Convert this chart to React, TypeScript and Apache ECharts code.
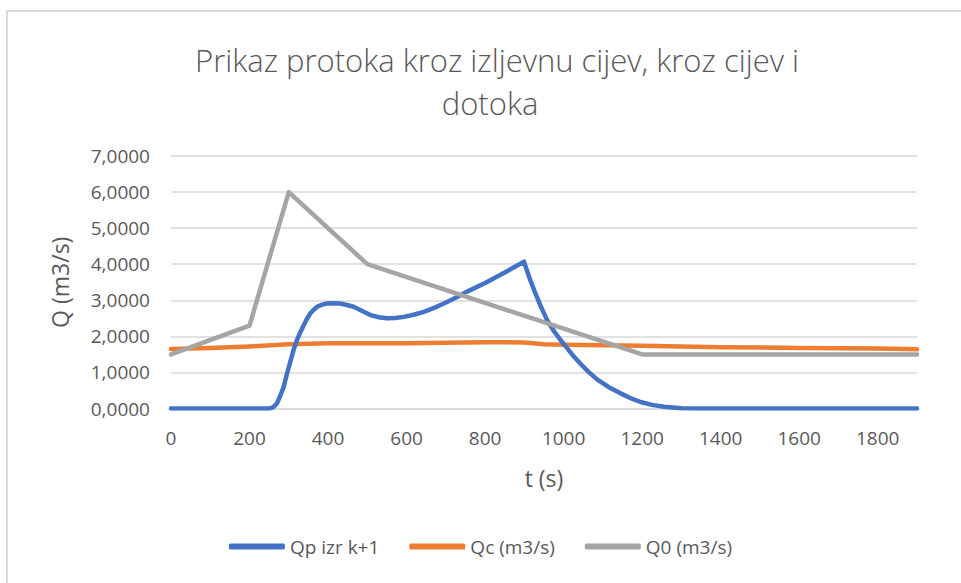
import React, { useEffect, useRef } from "react";
import * as echarts from "echarts";

const titleLines = ["Prikaz protoka kroz izljevnu cijev, kroz cijev i", "dotoka"];
const xAxisTitle = "t (s)";
const yAxisTitle = "Q (m3/s)";
const seriesNames = ["Qp izr k+1", "Qc (m3/s)", "Q0 (m3/s)"];
const seriesColors = ["#4472C4", "#ED7D31", "#A5A5A5"];

// Qp izr k+1 : [t, Q]
const qpData: [number, number][] = [
  [0, 0], [250, 0], [260, 0.03], [270, 0.14], [280, 0.4], [287, 0.6], [295, 0.95],
  [304, 1.3], [312, 1.62], [321, 1.9], [330, 2.13], [338, 2.31], [346, 2.48],
  [355, 2.64], [364, 2.74], [372, 2.82], [385, 2.88], [397, 2.91], [414, 2.92],
  [431, 2.91], [448, 2.87], [465, 2.82], [486, 2.71], [508, 2.59], [529, 2.53],
  [550, 2.5], [571, 2.51], [593, 2.54], [618, 2.6], [644, 2.68], [670, 2.79],
  [695, 2.91], [725, 3.07], [754, 3.24], [800, 3.48], [850, 3.77], [899, 4.07],
  [912, 3.65], [925, 3.28], [941, 2.85], [958, 2.45], [975, 2.15], [992, 1.9],
  [1010, 1.66], [1026, 1.44], [1043, 1.24], [1064, 1.01], [1086, 0.8], [1115, 0.59],
  [1145, 0.42], [1170, 0.29], [1196, 0.18], [1225, 0.1], [1256, 0.05], [1300, 0.01],
  [1340, 0], [1900, 0],
];

// Qc (m3/s) : [t, Q]
const qcData: [number, number][] = [
  [0, 1.65], [100, 1.68], [200, 1.72], [300, 1.78], [400, 1.81], [500, 1.81],
  [600, 1.81], [700, 1.82], [800, 1.84], [900, 1.83], [950, 1.78], [1000, 1.77],
  [1200, 1.74], [1400, 1.7], [1600, 1.68], [1800, 1.66], [1900, 1.64],
];

// Q0 (m3/s) : [t, Q]
const q0Data: [number, number][] = [
  [0, 1.5], [200, 2.3], [300, 6.0], [500, 4.0], [1200, 1.5], [1900, 1.5],
];

const xMin = 0;
const xMax = 1900;
const xInterval = 200;
const yMin = 0;
const yMax = 7;
const yInterval = 1;

const FONT = "'Open Sans', 'Noto Sans', sans-serif";
const TEXT_COLOR = "#595959";
const GRID_COLOR = "#d9d9d9";

export default function App() {
  const ref = useRef<HTMLDivElement>(null);

  useEffect(() => {
    if (!ref.current) return;
    const chart = echarts.init(ref.current, undefined, { renderer: "svg" });
    const lineW = 4.5;
    const option: any = {
      animation: false,
      backgroundColor: "#ffffff",
      textStyle: { fontFamily: FONT },
      graphic: [
        {
          type: "rect",
          shape: { x: 7, y: 11, width: 1000, height: 600 },
          style: { fill: "none", stroke: GRID_COLOR, lineWidth: 2 },
          silent: true,
        },
        {
          type: "text",
          x: 497,
          y: 60,
          style: {
            text: titleLines[0],
            fill: TEXT_COLOR,
            font: `300 31px ${FONT}`,
            textAlign: "center",
            textVerticalAlign: "middle",
          },
        },
        {
          type: "text",
          x: 490,
          y: 103,
          style: {
            text: titleLines[1],
            fill: TEXT_COLOR,
            font: `300 31px ${FONT}`,
            textAlign: "center",
            textVerticalAlign: "middle",
          },
        },
      ],
      grid: { left: 171, right: 44, top: 156, bottom: 174.5, containLabel: false },
      legend: {
        bottom: 22,
        left: "center",
        icon: "roundRect",
        itemWidth: 56,
        itemHeight: 6,
        itemGap: 30,
        textStyle: { color: TEXT_COLOR, fontSize: 19, fontFamily: FONT },
        data: seriesNames,
      },
      xAxis: {
        type: "value",
        min: xMin,
        max: xMax,
        interval: xInterval,
        name: xAxisTitle,
        nameLocation: "middle",
        nameGap: 58,
        nameTextStyle: { color: TEXT_COLOR, fontSize: 23, fontFamily: FONT },
        axisLine: { show: true, lineStyle: { color: GRID_COLOR, width: 1.5 } },
        axisTick: { show: false },
        splitLine: { show: false },
        axisLabel: {
          color: TEXT_COLOR,
          fontSize: 19,
          margin: 20,
          showMaxLabel: false,
          formatter: (v: number) => String(v),
        },
      },
      yAxis: {
        type: "value",
        min: yMin,
        max: yMax,
        interval: yInterval,
        name: yAxisTitle,
        nameLocation: "middle",
        nameGap: 100,
        nameTextStyle: { color: TEXT_COLOR, fontSize: 23, fontFamily: FONT },
        axisLine: { show: false },
        axisTick: { show: false },
        splitLine: { show: true, lineStyle: { color: GRID_COLOR, width: 1.5 } },
        axisLabel: {
          color: TEXT_COLOR,
          fontSize: 19,
          margin: 21,
          formatter: (v: number) => v.toFixed(4).replace(".", ","),
        },
      },
      series: [
        {
          name: seriesNames[0],
          type: "line",
          data: qpData,
          showSymbol: false,
          symbol: "none",
          lineStyle: { color: seriesColors[0], width: lineW, cap: "round", join: "round" },
          itemStyle: { color: seriesColors[0] },
          z: 4,
        },
        {
          name: seriesNames[1],
          type: "line",
          data: qcData,
          showSymbol: false,
          symbol: "none",
          lineStyle: { color: seriesColors[1], width: lineW, cap: "round", join: "round" },
          itemStyle: { color: seriesColors[1] },
          z: 3,
        },
        {
          name: seriesNames[2],
          type: "line",
          data: q0Data,
          showSymbol: false,
          symbol: "none",
          lineStyle: { color: seriesColors[2], width: lineW, cap: "round", join: "round" },
          itemStyle: { color: seriesColors[2] },
          z: 5,
        },
      ],
    };
    chart.setOption(option);
    return () => chart.dispose();
  }, []);

  return (
    <div
      ref={ref}
      style={{ position: "fixed", left: 0, top: 0, width: 961, height: 583, background: "#fff" }}
    />
  );
}
